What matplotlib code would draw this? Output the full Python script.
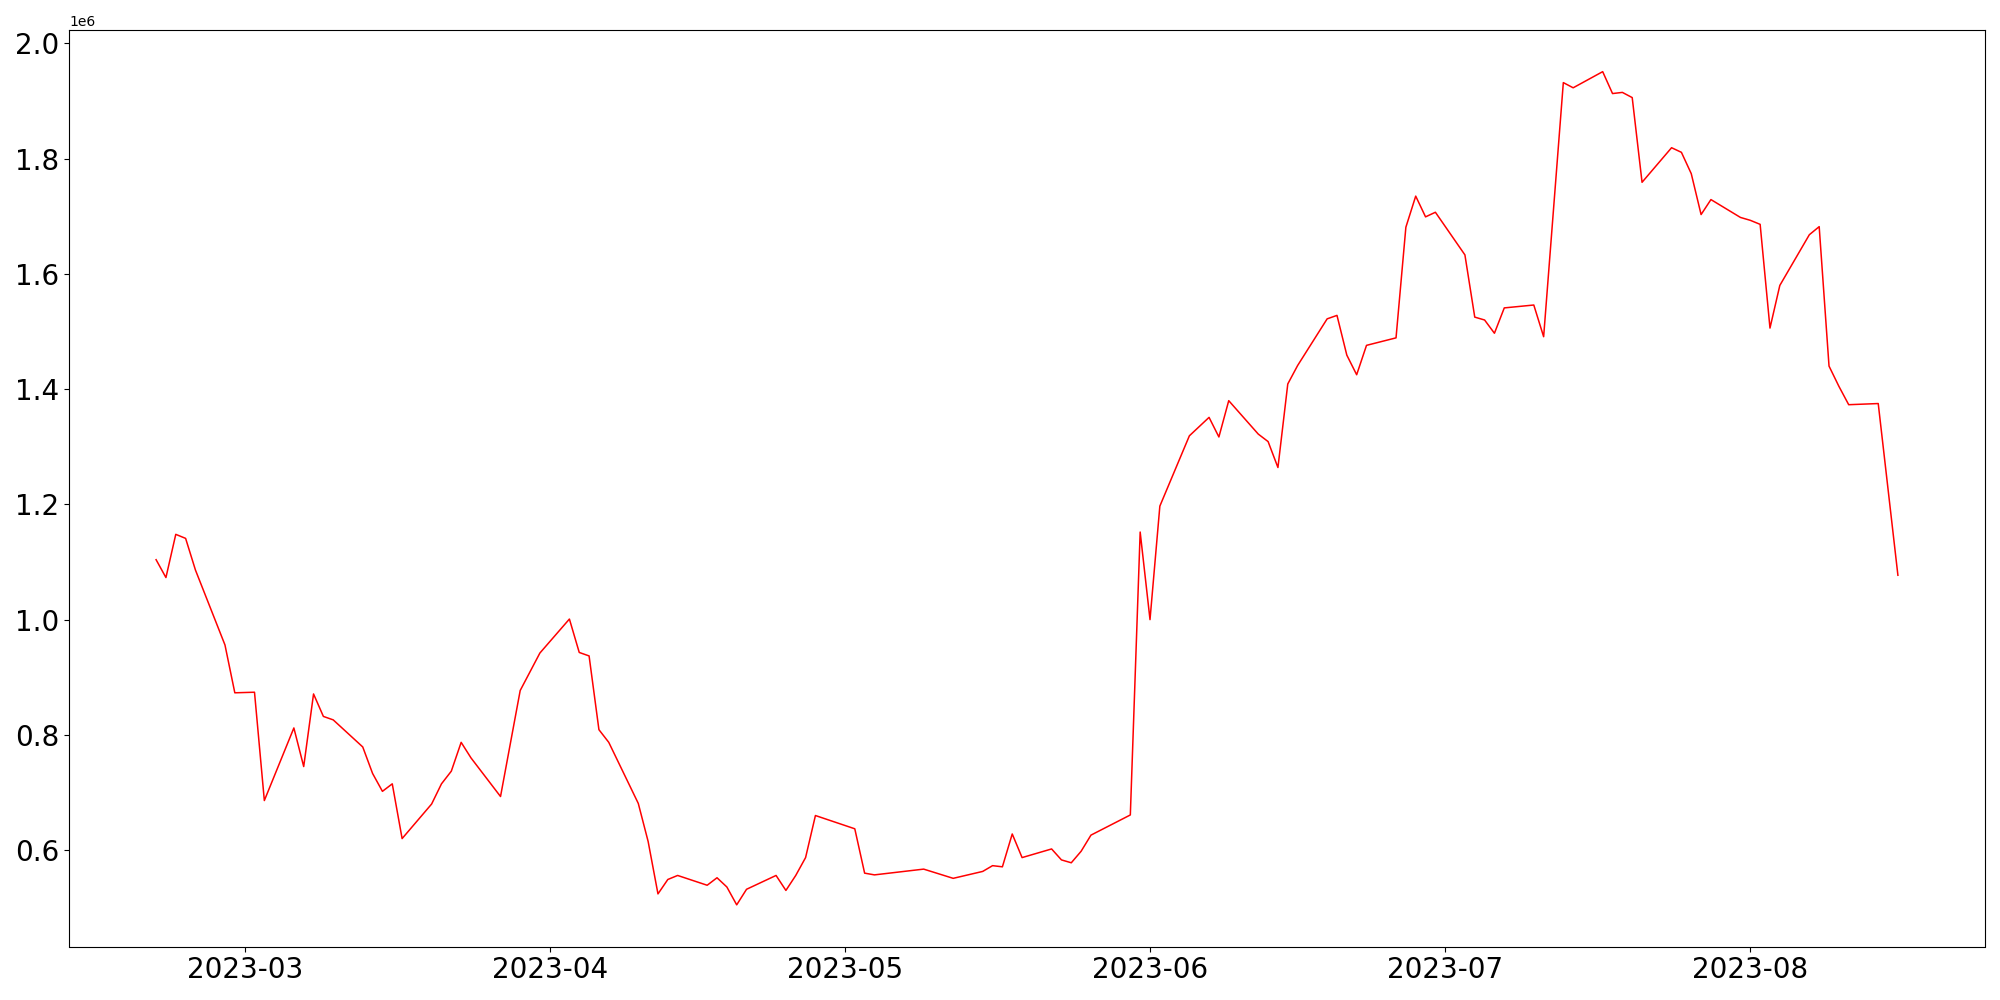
import pandas as pd
import matplotlib
matplotlib.use('Agg')
import matplotlib.pyplot as plt

# trading days (KRX calendar, holidays skipped)
dates = ['2023-02-20', '2023-02-21', '2023-02-22', '2023-02-23', '2023-02-24',
         '2023-02-27', '2023-02-28', '2023-03-02', '2023-03-03',
         '2023-03-06', '2023-03-07', '2023-03-08', '2023-03-09', '2023-03-10',
         '2023-03-13', '2023-03-14', '2023-03-15', '2023-03-16', '2023-03-17',
         '2023-03-20', '2023-03-21', '2023-03-22', '2023-03-23', '2023-03-24',
         '2023-03-27', '2023-03-29', '2023-03-31',
         '2023-04-03', '2023-04-04', '2023-04-05', '2023-04-06', '2023-04-07',
         '2023-04-10', '2023-04-11', '2023-04-12', '2023-04-13', '2023-04-14',
         '2023-04-17', '2023-04-18', '2023-04-19', '2023-04-20', '2023-04-21',
         '2023-04-24', '2023-04-25', '2023-04-26', '2023-04-27', '2023-04-28',
         '2023-05-02', '2023-05-03', '2023-05-04',
         '2023-05-09', '2023-05-12',
         '2023-05-15', '2023-05-16', '2023-05-17', '2023-05-18', '2023-05-19',
         '2023-05-22', '2023-05-23', '2023-05-24', '2023-05-25', '2023-05-26',
         '2023-05-30', '2023-05-31', '2023-06-01', '2023-06-02',
         '2023-06-05', '2023-06-07', '2023-06-08', '2023-06-09',
         '2023-06-12', '2023-06-13', '2023-06-14', '2023-06-15', '2023-06-16',
         '2023-06-19', '2023-06-20', '2023-06-21', '2023-06-22', '2023-06-23',
         '2023-06-26', '2023-06-27', '2023-06-28', '2023-06-29', '2023-06-30',
         '2023-07-03', '2023-07-04', '2023-07-05', '2023-07-06', '2023-07-07',
         '2023-07-10', '2023-07-11', '2023-07-13', '2023-07-14',
         '2023-07-17', '2023-07-18', '2023-07-19', '2023-07-20', '2023-07-21',
         '2023-07-24', '2023-07-25', '2023-07-26', '2023-07-27', '2023-07-28',
         '2023-07-31', '2023-08-01', '2023-08-02', '2023-08-03', '2023-08-04',
         '2023-08-07', '2023-08-08', '2023-08-09', '2023-08-10', '2023-08-11',
         '2023-08-14', '2023-08-16']

values = [1104000, 1073000, 1148000, 1141000, 1086000,
          956000, 873000, 874000, 686000,
          812000, 745000, 871000, 832000, 826000,
          779000, 733000, 702000, 715000, 620000,
          680000, 715000, 737000, 787000, 760000,
          693000, 877000, 942000,
          1001000, 943000, 937000, 809000, 787000,
          681000, 615000, 524000, 549000, 556000,
          539000, 552000, 536000, 505000, 532000,
          556000, 530000, 556000, 587000, 660000,
          637000, 560000, 557000,
          567000, 551000,
          563000, 573000, 571000, 628000, 587000,
          602000, 583000, 578000, 598000, 626000,
          661000, 1152000, 1000000, 1197000,
          1319000, 1351000, 1317000, 1380000,
          1322000, 1309000, 1264000, 1409000, 1441000,
          1522000, 1528000, 1459000, 1425000, 1476000,
          1489000, 1681000, 1735000, 1699000, 1707000,
          1633000, 1525000, 1520000, 1497000, 1541000,
          1546000, 1491000, 1932000, 1923000,
          1951000, 1913000, 1915000, 1906000, 1759000,
          1819000, 1811000, 1774000, 1703000, 1729000,
          1698000, 1693000, 1686000, 1506000, 1580000,
          1668000, 1682000, 1440000, 1405000, 1373000,
          1375000, 1077000]

df = pd.DataFrame({'date': pd.to_datetime(dates), 'value': values})

fig, ax = plt.subplots(figsize=(20, 10), dpi=100)
ax.plot(df['date'], df['value'], color='red', linewidth=1.1)
ax.tick_params(axis='both', labelsize=20)
fig.subplots_adjust(left=0.0345, right=0.9925, bottom=0.0535, top=0.970)
plt.savefig('out.png')
